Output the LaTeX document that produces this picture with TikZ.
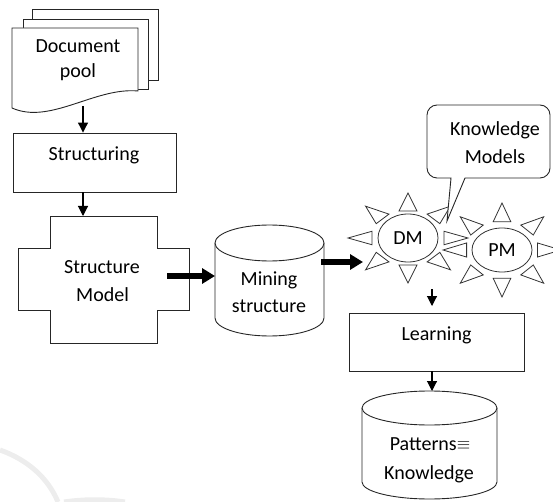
\documentclass[tikz,border=0pt]{standalone}
\usepackage{fontspec}
\setmainfont{Carlito}
\usetikzlibrary{arrows.meta,shapes.geometric,calc}
\begin{document}
\begin{tikzpicture}[x=1pt,y=-1pt,
  line width=0.9pt,
  outl/.style={draw=black!85, line width=0.9pt},
  txt/.style={font=\fontsize{20}{28}\selectfont, inner sep=0pt, anchor=base, text=black},
  arr/.style={line width=1.1pt, -{Triangle[length=10pt,width=10pt]}},
  fat/.style={line width=6pt, -{Triangle[length=13pt,width=15pt]}},
  sunline/.style={draw=black!80, line width=0.8pt},
  wm/.style={draw=gray!14, line width=5pt}]
\useasboundingbox (0,0) rectangle (553,502);

% watermark
\draw[wm] (0,450) .. controls (28,460) and (48,478) .. (58,502);
\draw[wm] (64,502) .. controls (85,499) and (105,499) .. (125,502);

% document pool
\draw[outl, fill=white] (32,9) rectangle (158,80);
\draw[outl, fill=white] (23,19) rectangle (148,89);
\draw[outl, fill=white] (12,28) -- (138,28) -- (138,91)
  .. controls (95,87) and (50,125) .. (12,108) -- cycle;
\node[txt] (doc1) at (78,53) {Document};
\node[txt] (doc2) at (78,78) {pool};
\coordinate (docb) at (83,106);

% structuring
\node[outl, fill=white, minimum width=163pt, minimum height=59pt, inner sep=0pt] (st) at (94.5,162.5) {};
\node[txt] (stl) at (94,161) {Structuring};

% structure model (cross)
\draw[outl, fill=white] (50,216) -- (157,216) -- (157,248) -- (189,248) -- (189,310)
  -- (157,310) -- (157,343) -- (50,343) -- (50,310) -- (18,310) -- (18,248) -- (50,248) -- cycle;
\coordinate (smtop) at (83,216);
\coordinate (smr) at (167,276);
\node[txt] (sm1) at (102,273) {Structure};
\node[txt] (sm2) at (102.5,301) {Model};

% mining structure cylinder
\draw[outl, fill=white] (215,243) -- (215,318)
  .. controls (215,327.9) and (239.4,336) .. (269.5,336)
  .. controls (299.6,336) and (324,327.9) .. (324,318) -- (324,243);
\draw[outl, fill=white] (269.5,243) ellipse [x radius=54.5pt, y radius=18pt];
\coordinate (minl) at (215,276);
\coordinate (minr) at (321,262);
\node[txt] (mi1) at (269,285) {Mining};
\node[txt] (mi2) at (269,312) {structure};

% suns
\begin{scope}[shift={(408,238)}, x=60pt, y=-45pt]
  \foreach \a in {0,45,...,315}
    \draw[sunline] ({cos(\a)},{sin(\a)})
      -- ({0.6*cos(\a)-0.15*sin(\a)},{0.6*sin(\a)+0.15*cos(\a)})
      -- ({0.6*cos(\a)+0.15*sin(\a)},{0.6*sin(\a)-0.15*cos(\a)}) -- cycle;
\end{scope}
\begin{scope}[shift={(502,250)}, x=59pt, y=-47pt]
  \foreach \a in {0,45,...,315}
    \draw[sunline] ({cos(\a)},{sin(\a)})
      -- ({0.6*cos(\a)-0.15*sin(\a)},{0.6*sin(\a)+0.15*cos(\a)})
      -- ({0.6*cos(\a)+0.15*sin(\a)},{0.6*sin(\a)-0.15*cos(\a)}) -- cycle;
\end{scope}
\node[ellipse, sunline, fill=white, minimum width=60pt, minimum height=48pt, inner sep=0pt,
  font=\fontsize{20}{24}\selectfont] (DM) at (408,238) {DM};
\node[ellipse, sunline, fill=white, minimum width=60pt, minimum height=44pt, inner sep=0pt,
  font=\fontsize{20}{24}\selectfont] (PM) at (502,250) {PM};
\coordinate (dmin) at (363,262);
\coordinate (dmout) at (432,289);
\coordinate (lrnin) at (432,306);

% callout
\draw[outl, fill=white] (447,221) -- (451,178) -- (437,178)
  .. controls (431.5,178) and (427,173.5) .. (427,168) -- (427,115)
  .. controls (427,109.5) and (431.5,105) .. (437,105) -- (540,105)
  .. controls (545.5,105) and (550,109.5) .. (550,115) -- (550,168)
  .. controls (550,173.5) and (545.5,178) .. (540,178) -- (465,178) -- cycle;
\node[txt] (km1) at (495,136) {Knowledge};
\node[txt] (km2) at (495,164) {Models};

% learning
\node[outl, fill=white, minimum width=175pt, minimum height=58pt, inner sep=0pt] (lrn) at (436.5,342) {};
\node[txt] (lrnl) at (436.5,340.5) {Learning};
\coordinate (lrnb) at (432,371);

% patterns cylinder
\draw[outl, fill=white] (362,408) -- (362,482)
  .. controls (362,491.4) and (392.2,499) .. (429.5,499)
  .. controls (466.8,499) and (497,491.4) .. (497,482) -- (497,408);
\draw[outl, fill=white] (429.5,408) ellipse [x radius=67.5pt, y radius=17pt];
\coordinate (pattop) at (432,391);
\node[txt] (pa1) at (430,450) {Patterns{\raisebox{1pt}{\fontsize{16}{16}\selectfont$\equiv$}}};
\node[txt] (pa2) at (429,479) {Knowledge};

% connectors
\draw[arr] (docb) -- (docb |- st.north);
\draw[arr] (smtop |- st.south) -- (smtop);
\draw[fat] (smr) -- (minl);
\draw[fat] (minr) -- (dmin);
\draw[arr] (dmout) -- (lrnin);
\draw[arr] (lrnb) -- (pattop);
\end{tikzpicture}
\end{document}
